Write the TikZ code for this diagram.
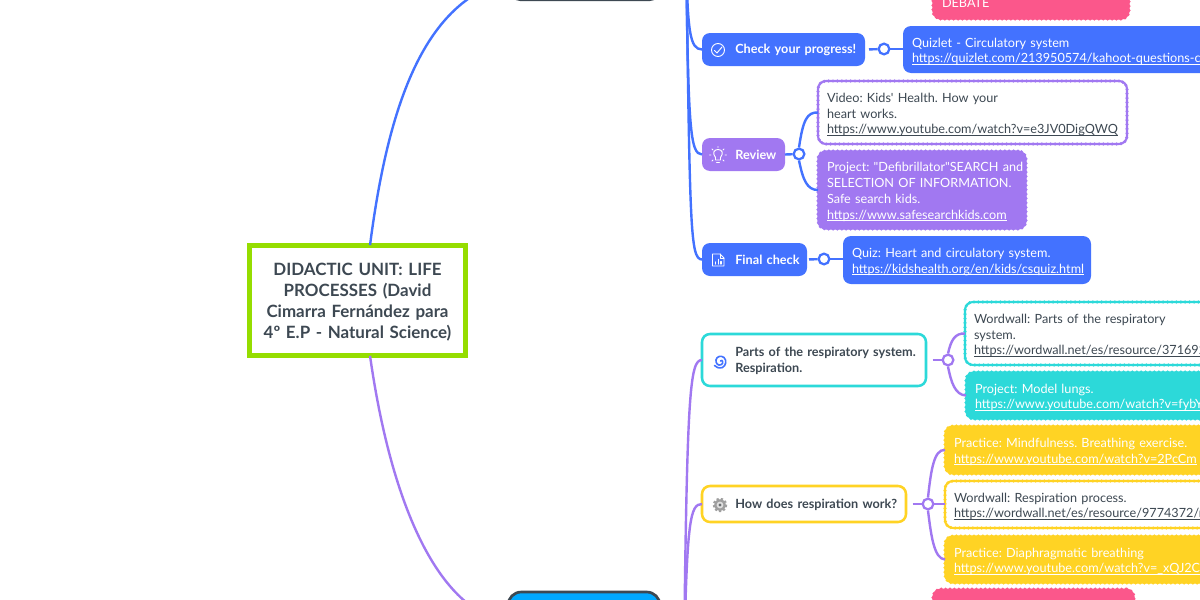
\documentclass[tikz,border=0pt]{standalone}
\usepackage{fontspec}
\setmainfont{Lato}[Ligatures=TeXOff]
\definecolor{ink}{HTML}{3D4852}
\definecolor{blu}{HTML}{4372FF}
\definecolor{pur}{HTML}{A178F1}
\definecolor{tea}{HTML}{2CD9D9}
\definecolor{yel}{HTML}{FFD324}
\definecolor{pnk}{HTML}{FB578B}
\definecolor{grn}{HTML}{95DD00}
\definecolor{sky}{HTML}{00A8FF}
\newsavebox{\ubox}
\newcommand{\U}[1]{\sbox{\ubox}{#1}\leavevmode\rlap{\rule[-1.2pt]{\wd\ubox}{0.55pt}}\usebox{\ubox}}
\newcommand{\bx}[7]{\node[#6,minimum width={(#4-#2)*0.75pt},minimum height={(#5-#3)*0.75pt},text width={(#4-#2)*0.75pt}] (#1) at ({(#2+#4)/2},{(#3+#5)/2}) {\hspace*{6.75pt}\parbox[c]{\dimexpr#4pt*3/4-#2pt*3/4-13.5pt\relax}{\raggedright\vspace*{3pt}#7}};}
\newcommand{\hd}[7]{\node[#6,minimum width={(#4-#2)*0.75pt},minimum height={(#5-#3)*0.75pt},text width={(#4-#2)*0.75pt}] (#1) at ({(#2+#4)/2},{(#3+#5)/2}) {\hspace*{25pt}\parbox[c]{\dimexpr#4pt*3/4-#2pt*3/4-25pt\relax}{\raggedright\vspace*{1.2pt}#7}};}
\tikzset{
  base/.style={shape=rectangle,rounded corners=6pt,inner sep=0pt,outer sep=0pt,align=left,
    font=\fontsize{9.5pt}{11.8pt}\selectfont\frenchspacing},
  solidbox/.style={base,fill=#1,text=white},
  wavefill/.style={base,fill=#1,text=white,draw=#1,line width=1pt,
    postaction={draw=#1,line width=2.6pt,dash pattern=on 0pt off 3.3pt,line cap=round}},
  waveline/.style={base,fill=white,text=ink,draw=#1,line width=1.6pt,
    postaction={draw=#1,line width=2.6pt,dash pattern=on 0pt off 3.3pt,line cap=round}},
  headbase/.style={shape=rectangle,rounded corners=6pt,inner sep=0pt,outer sep=0pt,align=left,
    font=\fontsize{9.5pt}{11.6pt}\selectfont\bfseries\frenchspacing},
  headfill/.style={headbase,fill=#1,text=white},
  headline/.style={headbase,fill=white,text=ink,draw=#1,line width=1.9pt},
  hub/.style={circle,draw=#1,fill=white,line width=1.7pt,minimum size=8pt,inner sep=0pt},
  link/.style={draw=#1,line width=1.8pt},
  rootbox/.style={shape=rectangle,draw=grn,fill=white,line width=3.9pt,inner sep=0pt,outer sep=0pt,
    align=center,text=ink,font=\fontsize{12.7pt}{15.8pt}\selectfont\bfseries\frenchspacing},
  iconw/.style={draw=white,line width=.7pt,line cap=round,line join=round},
}
\begin{document}
\begin{tikzpicture}[x=0.75pt,y=-0.75pt]
\useasboundingbox (0,0) rectangle (1200,600);
\clip (0,0) rectangle (1200,600);
\fill[white] (0,0) rectangle (1200,600);

% root
\node[rootbox,minimum width=161.5pt,minimum height=83pt,text width=150pt] (root) at (357.5,300.5)
  {\parbox[c]{150pt}{\centering\vspace*{3pt}DIDACTIC UNIT: LIFE\\PROCESSES (David\\Cimarra Fernández para\\4º E.P - Natural Science)}};

% main branches
\node[shape=rectangle,rounded corners=8pt,draw=ink,fill=ink,line width=1.6pt,minimum width=112.5pt,minimum height=30pt,inner sep=0pt] (top) at (585,-20) {};
\node[shape=rectangle,rounded corners=10pt,draw=ink,fill=sky,line width=2pt,minimum width=114pt,minimum height=45pt,inner sep=0pt] (bot) at (584,622) {};
\coordinate (bluetrunk) at (686,-60);
\coordinate (purtrunk) at (684,660);

% second level
\hd{check}{702}{33}{865}{66}{headfill=blu}{Check your progress!}
\hd{review}{702}{138}{785}{171}{headfill=pur}{Review}
\hd{final}{702}{243}{807}{276}{headfill=blu}{Final check}
\hd{parts}{702}{334}{926}{386}{headline=tea}{Parts of the respiratory system.\\Respiration.}
\hd{how}{702}{486}{906}{522}{headline=yel}{How does respiration work?}

% leaves
\bx{debate}{933}{-17}{1129}{19}{wavefill=pnk}{DEBATE}
\bx{quizlet}{903}{26}{1290}{73}{solidbox=blu}{Quizlet - Circulatory system\\\U{https://quizlet.com/213950574/kahoot-questions-ci}}
\bx{video}{818}{81}{1127}{144}{waveline=pur}{Video: Kids' Health. How your\\heart works.\\\U{https://www.youtube.com/watch?v=e3JV0DigQWQ}}
\bx{defib}{818}{151}{1026}{229}{wavefill=pur}{\mbox{Project: "Defibrillator"SEARCH and}\\\mbox{SELECTION OF INFORMATION.}\\Safe search kids.\\\U{https://www.safesearchkids.com}}
\bx{quiz}{843}{236}{1091}{284}{solidbox=blu}{Quiz: Heart and circulatory system.\\\U{https://kidshealth.org/en/kids/csquiz.html}}
\bx{wordparts}{965}{302}{1290}{365}{waveline=tea}{Wordwall: Parts of the respiratory\\system.\\\U{https://wordwall.net/es/resource/371692}}
\bx{lungs}{966}{372}{1290}{419}{wavefill=tea}{Project: Model lungs.\\\U{https://www.youtube.com/watch?v=fybY}}
\bx{mind}{945}{426}{1290}{474}{wavefill=yel}{Practice: Mindfulness. Breathing exercise.\\\U{https://www.youtube.com/watch?v=2PcCm}}
\bx{wordresp}{945}{481}{1290}{528}{waveline=yel}{Wordwall: Respiration process.\\\U{https://wordwall.net/es/resource/9774372/re}}
\bx{diaph}{945}{536}{1290}{583}{wavefill=yel}{Practice: Diaphragmatic breathing\\\U{https://www.youtube.com/watch?v=\_xQJ2C}}
\node[wavefill=pnk,minimum width=150.75pt,minimum height=38pt] (pinkb) at (1033.5,614.5) {};

% hubs
\node[hub=blu] (hcheck) at (884,49) {};
\node[hub=blu] (hreview) at (799,154) {};
\node[hub=blu] (hfinal) at (824,259) {};
\node[hub=pur] (hparts) at (948,360) {};
\node[hub=pur] (hhow) at (928,504) {};

% connectors
\draw[link=blu] ([xshift=9.4pt]root.north) .. controls (390,90) and (430,0) .. (top.west);
\draw[link=pur] ([xshift=9.4pt]root.south) .. controls (392,510) and (440,610) .. (bot.west);
\draw[link=blu] (bluetrunk) .. controls (687,35) and (690,49) .. (check.west);
\draw[link=blu] (bluetrunk) .. controls (688,130) and (690,154) .. (review.west);
\draw[link=blu] (bluetrunk) .. controls (690,230) and (690,259) .. (final.west);
\draw[link=pur] (purtrunk) .. controls (687,390) and (690,360) .. (parts.west);
\draw[link=pur] (purtrunk) .. controls (687,520) and (690,504) .. (how.west);
\draw[link=blu,shorten <=3pt] (check.east) -- (hcheck);
\draw[link=blu] (hcheck) -- (hcheck -| quizlet.west);
\draw[link=blu] (review.east) -- (hreview);
\draw[link=blu] (hreview.north) .. controls (803,120) and (807,112) .. (video.west);
\draw[link=blu] (hreview.south) .. controls (803,180) and (807,190) .. (defib.west);
\draw[link=blu,shorten <=1.5pt] (final.east) -- (hfinal);
\draw[link=blu] (hfinal) -- (quiz.west |- hfinal);
\draw[link=pur,shorten <=5pt] (parts.east |- hparts) -- (hparts);
\draw[link=pur] (hparts.north) .. controls (951,340) and (955,333) .. (wordparts.west);
\draw[link=pur] (hparts.south) .. controls (951,382) and (955,395) .. (lungs.west);
\draw[link=pur,shorten <=5pt] (how.east) -- (hhow);
\draw[link=pur] (hhow.north) .. controls (931,470) and (934,449) .. (mind.west);
\draw[link=pur] (hhow.east) -- (wordresp.west |- hhow);
\draw[link=pur] (hhow.south) .. controls (931,535) and (934,559) .. (diaph.west);

% icons
\begin{scope}[iconw]
  \draw (718,50) circle[radius=6.5];
  \draw (714.5,50.5) -- (717,53) -- (722,47);
  % bulb
  \draw (715.5,157.5) .. controls (712,153) and (714,149.5) .. (718,149.5) .. controls (722,149.5) and (724,153) .. (720.5,157.5) -- (720.5,160) -- (715.5,160) -- cycle;
  \draw (716.5,162) -- (719.5,162);
  \draw (709.5,155) -- (711,155) (725,155) -- (726.5,155) (712,149) -- (713,150) (724,149) -- (723,150) (718,146.5) -- (718,147.3) (712,161) -- (713,160) (724,161) -- (723,160);
  % file chart
  \draw (712.5,254) -- (720,254) -- (724,258) -- (724,266) -- (712.5,266) -- cycle;
  \draw (720,254) -- (720,258) -- (724,258);
  \draw[line width=1pt] (715.5,264) -- (715.5,262) (718.3,264) -- (718.3,259.5) (721,264) -- (721,261.5);
\end{scope}
% spiral
\draw[blu,line width=1.2pt,line cap=round] (720.5,361) .. controls (722.5,359) and (724,363) .. (721.5,364.5) .. controls (718,366.5) and (715.5,363) .. (716,360) .. controls (716.5,356.5) and (721,355) .. (724,357.5) .. controls (727,360.5) and (726,365.5) .. (722.5,367.5) .. controls (719,368.5) and (716,367.5) .. (714.5,365.5);
% gear
\fill[gray!75] (720,505) circle[radius=5.8];
\draw[gray!75,line width=1.5pt,dash pattern=on 1.6pt off 1.6pt] (720,505) circle[radius=6.2];
\fill[gray!25] (720,505) circle[radius=3.4];
\fill[gray!70!ink] (720,505) circle[radius=1.6];
\end{tikzpicture}
\end{document}
